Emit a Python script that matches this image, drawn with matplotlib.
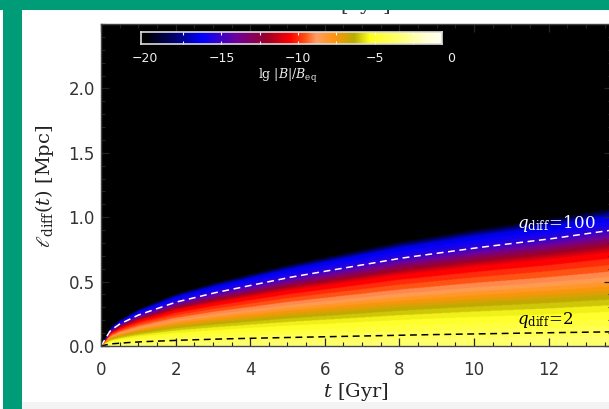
import numpy as np
import matplotlib
matplotlib.use("Agg")
import matplotlib.pyplot as plt
from matplotlib.colors import LinearSegmentedColormap
from matplotlib.patches import Rectangle
from matplotlib.ticker import MultipleLocator, FormatStrFormatter
import matplotlib.transforms as mtrans

# ---------------- data ----------------
t_read = [0.0, 0.25, 0.5, 1.0, 2.0, 3.0, 4.0, 5.0, 6.0, 8.0, 10.0, 12.0, 13.7]
l100_read = [0.0, 0.12, 0.17, 0.24, 0.34, 0.41, 0.47, 0.53, 0.58, 0.68, 0.76, 0.83, 0.90]
l2_read = [0.0, 0.016, 0.022, 0.032, 0.044, 0.053, 0.060, 0.066, 0.072, 0.084, 0.094, 0.103, 0.11]
# lg|B|/B_eq across the profile, as a function of ell / ell(q_diff=100)
ratio_read = [0.0, 0.14, 0.32, 0.43, 0.53, 0.62, 0.71, 0.81, 0.89, 0.955, 1.0, 1.12, 1.20, 1.26]
lgB_read = [-3.0, -3.8, -5.2, -6.3, -7.7, -8.8, -9.6, -10.5, -12.3, -14.0, -15.0, -16.5, -20.0, -22.0]
cbar_ticks = [-20, -15, -10, -5, 0]
cbar_ticklabels = ["\u221220", "\u221215", "\u221210", "\u22125", "0"]
x_ticks = [0, 2, 4, 6, 8, 10, 12]
y_ticks = [0.0, 0.5, 1.0, 1.5, 2.0]
# colour table (value, colour)
cmap_vals = [-20.0, -18.0, -16.3, -14.1, -12.0, -10.5, -9.5, -8.8, -7.6, -6.3, -5.3, -3.5, -1.5, 0.0]
cmap_cols = [(0, 0, 0), (0, 0, 0.45), (0, 0, 1), (0.42, 0, 0.62), (0.62, 0, 0.15),
             (1, 0, 0), (1, 0.33, 0.08), (1, 0.62, 0.4), (1, 0.58, 0.05), (0.72, 0.68, 0.0),
             (1, 1, 0.12), (1, 1, 0.42), (1, 1, 0.85), (1, 1, 1)]

# ---------------- figure ----------------
plt.rcParams["mathtext.fontset"] = "dejavuserif"
W, H = 609, 409
fig = plt.figure(figsize=(W / 100, H / 100), dpi=100, facecolor="white")

def fx(px):
    return px / W

def fy(py):
    return 1 - py / H

ax_l, ax_r, ax_t, ax_b = 101, 612, 24, 346
ax = fig.add_axes([fx(ax_l), fy(ax_b), (ax_r - ax_l) / W, (ax_b - ax_t) / H])
ax.set_facecolor("black")

cmap = LinearSegmentedColormap.from_list(
    "idl", [((v + 20) / 20, c) for v, c in zip(cmap_vals, cmap_cols)], N=512)
cmap.set_under("black")

tmax, lmax = 13.7, 2.5
tg = np.linspace(0, tmax, 600)
lg = np.linspace(0, lmax, 700)
T, L = np.meshgrid(tg, lg)
l100 = np.interp(T, t_read, l100_read)
ratio = L / np.maximum(l100, 1e-9)
field = np.interp(ratio, ratio_read, lgB_read, right=-25.0)
field = np.floor(field * 2) / 2
ax.imshow(field, origin="lower", extent=[0, tmax, 0, lmax], aspect="auto",
          cmap=cmap, vmin=-20, vmax=0, interpolation="bilinear")

tt = np.linspace(0, tmax, 300)
ax.plot(tt, np.interp(tt, t_read, l100_read), color="white", lw=1.1, dashes=(4.5, 3))
ax.plot(tt, np.interp(tt, t_read, l2_read), color="black", lw=1.1, dashes=(4.5, 3))

ax.text(11.15, 0.916, r"$q_{\rm diff}\!=\!100$", color="white", fontsize=12,
        ha="left", va="baseline", family="DejaVu Serif")
ax.text(11.15, 0.171, r"$q_{\rm diff}\!=\!2$", color="black", fontsize=12,
        ha="left", va="baseline", family="DejaVu Serif")

ax.set_xlim(0, tmax)
ax.set_ylim(0, lmax)
ax.set_xticks(x_ticks)
ax.set_yticks(y_ticks)
ax.yaxis.set_major_formatter(FormatStrFormatter("%.1f"))
ax.xaxis.set_minor_locator(MultipleLocator(0.5))
ax.yaxis.set_minor_locator(MultipleLocator(0.1))
ax.tick_params(which="both", direction="in", top=True, right=True, color="#222222")
ax.tick_params(which="major", length=6, width=0.9)
ax.tick_params(which="minor", length=3, width=0.8)
ax.tick_params(axis="x", which="both", pad=11, labelsize=12, labelcolor="#333333")
ax.tick_params(axis="y", which="both", pad=4.5, labelsize=12, labelcolor="#333333")
for s in ax.spines.values():
    s.set_color("#444444")
    s.set_linewidth(1.0)

fig.text(fx(356), fy(392), r"$t$ [Gyr]", fontsize=14, ha="center", va="center",
         family="DejaVu Serif", color="#222222")
fig.text(fx(45), fy(186), r"$\ell_{\rm diff}(t)$ [Mpc]", fontsize=14, ha="center", va="center",
         rotation=90, family="DejaVu Serif", color="#222222")

# ---------------- colour bar ----------------
cb_l, cb_r, cb_t, cb_b = 141, 442, 32, 44
v_at = lambda px: -20 + (px - 145) / 15.3
cax = fig.add_axes([fx(cb_l), fy(cb_b), (cb_r - cb_l) / W, (cb_b - cb_t) / H])
v0, v1 = v_at(cb_l), v_at(cb_r)
cax.imshow(np.linspace(v0, v1, 400)[None, :], extent=[v0, v1, 0, 1], aspect="auto",
           cmap=cmap, vmin=-20, vmax=0)
cax.set_xlim(v0, v1)
cax.set_ylim(0, 1)
cax.set_xticks(np.arange(-17.5, -0.5, 2.5))
cax.set_xticklabels([])
cax.set_yticks([])
cax.tick_params(axis="x", direction="in", length=2, color="white", top=True, width=0.8)
for s in cax.spines.values():
    s.set_color("#dddddd")
    s.set_linewidth(1.2)
trans = mtrans.blended_transform_factory(cax.transData, fig.transFigure)
for v, lab in zip(cbar_ticks, cbar_ticklabels):
    cax.text(v, fy(59), lab, transform=trans, color="#eeeeee", fontsize=9,
             ha="center", va="center", clip_on=False)
fig.text(fx(288), fy(76), r"lg $|B|/B_{\rm eq}$", color="#eeeeee", fontsize=9,
         ha="center", va="center", family="DejaVu Serif")

# ---------------- frame of the screenshot ----------------
for xp, ch in zip([344, 365, 386], ["[", "y", "]"]):
    fig.text(fx(xp), fy(10.5), ch, fontsize=14, ha="center", va="baseline",
             family="DejaVu Serif", color="#333333", zorder=5)
teal = "#009B77"
fig.add_artist(Rectangle((0, fy(9.5)), 1, 9.5 / H, transform=fig.transFigure,
                         color=teal, zorder=20, lw=0))
fig.add_artist(Rectangle((fx(3), 0), 19 / W, 1, transform=fig.transFigure,
                         color=teal, zorder=20, lw=0))
fig.add_artist(Rectangle((fx(22), 0), 1, 7 / H, transform=fig.transFigure,
                         color="#f3f3f3", zorder=0.5, lw=0))

fig.savefig("out.png", dpi=100, facecolor="white")
